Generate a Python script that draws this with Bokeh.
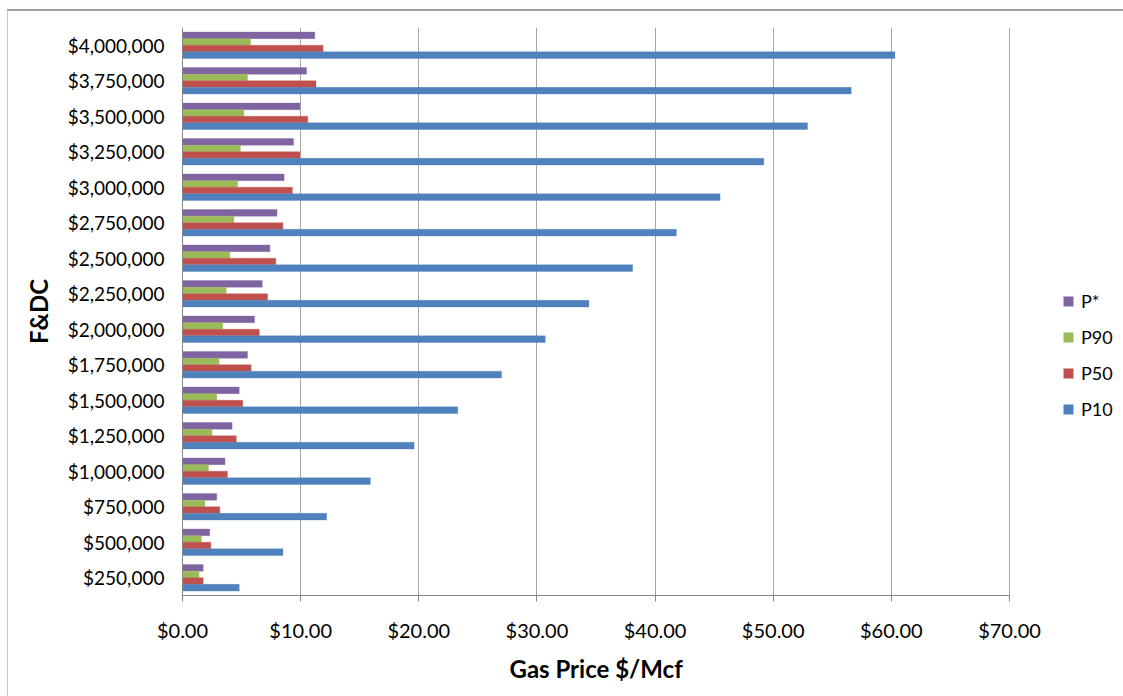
from bokeh.plotting import figure
from bokeh.models import (FactorRange, Range1d, FixedTicker, NumeralTickFormatter,
                          ColumnDataSource, Legend, LegendItem, InlineStyleSheet, Title)
from bokeh.transform import dodge
from bokeh.embed import file_html
from bokeh.resources import INLINE

# ---- data ----
categories = ["$250,000", "$500,000", "$750,000", "$1,000,000", "$1,250,000",
              "$1,500,000", "$1,750,000", "$2,000,000", "$2,250,000", "$2,500,000",
              "$2,750,000", "$3,000,000", "$3,250,000", "$3,500,000", "$3,750,000",
              "$4,000,000"]
p10 = [4.8, 8.5, 12.2, 15.9, 19.6, 23.3, 27.0, 30.7, 34.4, 38.1, 41.8, 45.5,
       49.2, 52.9, 56.6, 60.3]
p50 = [1.75, 2.4, 3.16, 3.8, 4.55, 5.1, 5.8, 6.5, 7.2, 7.9, 8.5, 9.3,
       9.94, 10.6, 11.3, 11.9]
p90 = [1.4, 1.6, 1.9, 2.2, 2.5, 2.9, 3.1, 3.4, 3.7, 4.0, 4.35, 4.66,
       4.9, 5.2, 5.5, 5.76]
pstar = [1.75, 2.3, 2.9, 3.6, 4.2, 4.8, 5.5, 6.1, 6.75, 7.4, 8.0, 8.6,
         9.4, 9.94, 10.5, 11.2]
x_ticks = [0, 10, 20, 30, 40, 50, 60, 70]
x_axis_max = 70
series_names = ["P*", "P90", "P50", "P10"]
series_colors = ["#8064A2", "#9BBB59", "#C0504D", "#4F81BD"]
x_title = "Gas Price $/Mcf"
y_title = "F&DC"

source = ColumnDataSource(dict(cat=categories, p10=p10, p50=p50, p90=p90, pstar=pstar))

FONT = "Lato"

# plot frame spans x=182..1123 px; the value axis ($0-$70) occupies 182..1009 px,
# the remaining strip on the right hosts the legend
px_axis = 1009 - 182
px_frame = 1123 - 182
x_end = x_axis_max * px_frame / px_axis

p = figure(width=1123, height=696, y_range=FactorRange(factors=categories),
           x_range=Range1d(0, x_end), output_backend="svg", toolbar_location=None,
           min_border_left=182, min_border_right=0, min_border_top=27,
           min_border_bottom=101)
p.outline_line_color = None
p.background_fill_color = "white"
p.border_fill_color = "white"

bar_h = 0.186
offsets = [0.279, 0.093, -0.093, -0.279]
fields = ["pstar", "p90", "p50", "p10"]
renderers = []
for f, off, col in zip(fields, offsets, series_colors):
    r = p.hbar(y=dodge("cat", off, range=p.y_range), right=f, left=0, height=bar_h,
               source=source, fill_color=col, line_color=col, line_alpha=0.35,
               line_width=1)
    renderers.append(r)

# axes
p.xaxis.ticker = FixedTicker(ticks=x_ticks)
p.xaxis.bounds = (0, x_axis_max)
p.xaxis.formatter = NumeralTickFormatter(format="$0.00")
p.xaxis.major_label_text_font = FONT
p.xaxis.major_label_text_font_size = "20px"
p.xaxis.major_label_text_color = "black"
p.xaxis.major_label_standoff = 16
p.xaxis.major_tick_out = 6
p.xaxis.major_tick_in = 0
p.xaxis.minor_tick_line_color = None
p.xaxis.axis_line_color = "#868686"
p.xaxis.major_tick_line_color = "#868686"

# x-axis title, centred under the $0-$70 axis (not under the legend strip)
xt = Title(text=x_title, align="left", offset=327, standoff=14,
           text_font=FONT, text_font_style="bold", text_font_size="24px",
           text_color="black")
p.add_layout(xt, "below")

p.yaxis.axis_label = y_title
p.yaxis.axis_label_text_font = FONT
p.yaxis.axis_label_text_font_style = "bold"
p.yaxis.axis_label_text_font_size = "24px"
p.yaxis.axis_label_text_color = "black"
p.yaxis.axis_label_standoff = 12
p.yaxis.major_label_text_font = FONT
p.yaxis.major_label_text_font_size = "19px"
p.yaxis.major_label_text_color = "black"
p.yaxis.major_label_standoff = 18
p.yaxis.major_tick_line_color = None
p.yaxis.major_tick_out = 0
p.yaxis.axis_line_color = "#868686"

p.xgrid.grid_line_color = "#A6A6A6"
p.xgrid.grid_line_width = 1
p.ygrid.grid_line_color = None

legend = Legend(items=[LegendItem(label=n, renderers=[r]) for n, r in zip(series_names, renderers)],
                location=(880, 175), orientation="vertical")
legend.label_text_font = FONT
legend.label_text_font_size = "18px"
legend.label_text_color = "black"
legend.glyph_width = 12
legend.glyph_height = 12
legend.label_height = 20
legend.label_standoff = 7
legend.spacing = 14
legend.padding = 0
legend.margin = 0
legend.border_line_color = None
legend.background_fill_alpha = 0
p.add_layout(legend)

p.stylesheets = [InlineStyleSheet(css=(
    ":host::after{content:'';position:absolute;left:7px;top:9px;width:1116px;height:687px;"
    "border-top:2px solid #a0a0a0;border-left:1px solid #c8c8c8;pointer-events:none;"
    "box-sizing:border-box;}"))]

open("out.html", "w").write(file_html(p, INLINE))
